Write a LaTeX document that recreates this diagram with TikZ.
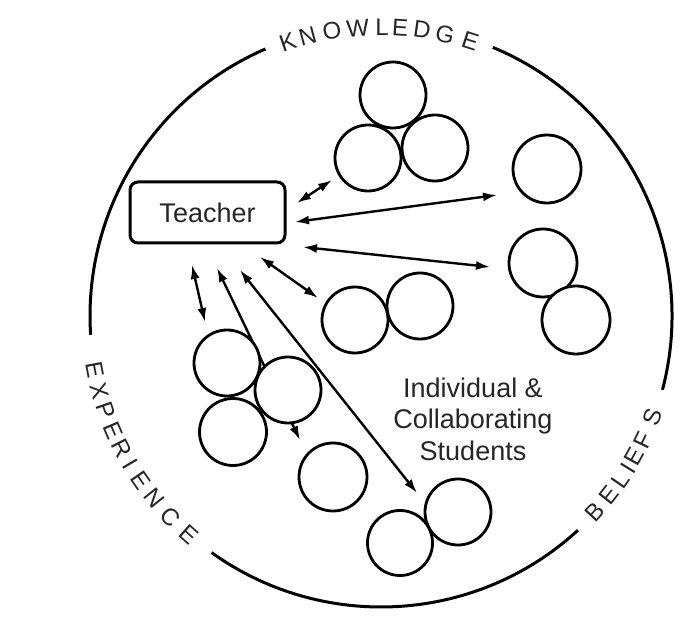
\documentclass[tikz,border=0pt]{standalone}
\usepackage{fontspec}
\setmainfont{Liberation Sans}
\usetikzlibrary{arrows.meta}
\begin{document}
\begin{tikzpicture}[x=1pt,y=1pt,
  >={Latex[length=14pt,width=9pt]},
  kid/.style={draw,circle,fill=white,line width=2.8pt,inner sep=0pt,minimum size=66pt},
  link/.style={<->,line width=2.4pt},
  rim/.style={line width=3pt},
  ringword/.style={font=\fontsize{24}{24}\selectfont,text=black!85,inner sep=0pt}]
\useasboundingbox (0,0) rectangle (686,619);
\coordinate (ring) at (381,303);
% outer ring, three pieces
\draw[rim] (ring) ++(113.4:291) arc[start angle=113.4,end angle=183.7,radius=291];
\draw[rim] (ring) ++(234.4:291) arc[start angle=234.4,end angle=312.6,radius=291];
\draw[rim] (ring) ++(345.3:291) arc[start angle=345.3,end angle=427.4,radius=291];
% words on the ring
\foreach \a/\c [count=\i] in {108.8/K,104.7/N,99.8/O,94.6/W,89.8/L,86.2/E,81.8/D,77.2/G,72.0/E}
  \path (ring) ++(\a:289) node[ringword,rotate=\a-90] (kn\i) {\c};
\foreach \a/\c [count=\i] in {190.6/E,195.0/X,198.9/P,203.2/E,207.1/R,210.6/I,214.5/E,218.8/N,223.6/C,228.6/E}
  \path (ring) ++(\a:291) node[ringword,rotate=\a+90] (ex\i) {\c};
\foreach \a/\c [count=\i] in {317.5/B,321.8/E,325.5/L,328.3/I,331.0/E,334.6/F,339.5/S}
  \path (ring) ++(\a:290) node[ringword,rotate=\a+90] (be\i) {\c};
% teacher
\node[draw,rounded corners=8pt,line width=3pt,minimum width=155pt,minimum height=61pt,
  font=\fontsize{27}{27}\selectfont,text=black!85] (teacher) at (207.5,406.5) {Teacher};
\node[align=center,font=\fontsize{27}{31.5}\selectfont,text=black!85] (label) at (473,200)
  {Individual \&\\Collaborating\\Students};
% arrow ends
\coordinate (ta) at (192,354); \coordinate (sa) at (205,297);
\coordinate (tb) at (217,351); \coordinate (sb) at (300,179);
\coordinate (tc) at (240,349); \coordinate (sc) at (417,126);
\coordinate (td) at (260,362); \coordinate (sd) at (318,321);
\coordinate (te) at (297,416); \coordinate (se) at (332,439);
\coordinate (tf) at (295,397); \coordinate (sf) at (497,424);
\coordinate (tg) at (303,372); \coordinate (sg) at (490,352);
\foreach \k in {a,b,c,d,e,f,g}
  \draw[link] (t\k) -- (s\k);
% students
\node[kid] (tri1) at (393,524) {};
\node[kid] (tri2) at (368,461) {};
\node[kid] (tri3) at (435,471) {};
\node[kid,minimum size=68pt] (solo1) at (547,450) {};
\node[kid,minimum size=68pt] (duoa1) at (543,356) {};
\node[kid,minimum size=68pt] (duoa2) at (576,299) {};
\node[kid] (duob1) at (355,299) {};
\node[kid] (duob2) at (420,313) {};
\node[kid] (grp1) at (227,256) {};
\node[kid] (grp2) at (288,229) {};
\node[kid,minimum size=67pt] (grp3) at (233,187) {};
\node[kid,minimum size=68pt] (solo2) at (333,142) {};
\node[kid] (duoc1) at (458,107) {};
\node[kid,minimum size=65pt] (duoc2) at (400,76) {};
\end{tikzpicture}
\end{document}
